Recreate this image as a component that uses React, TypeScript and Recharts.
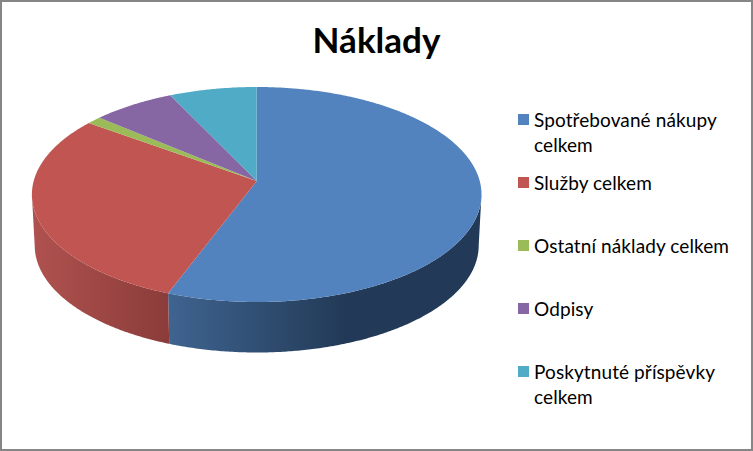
import React from "react";
import { PieChart, Pie, Legend } from "recharts";

const categories = [
  "Spotřebované nákupy celkem",
  "Služby celkem",
  "Ostatní náklady celkem",
  "Odpisy",
  "Poskytnuté příspěvky celkem",
];
const values = [55.7, 29.3, 1.2, 6.7, 7.1];
const colors = ["#5283BE", "#C15551", "#9BBB59", "#8667A3", "#4FABC6"];
const wallStops = [
  ["#3F6490", "#223A57"],
  ["#B0524F", "#8B3C3A"],
  ["#779045", "#5D7035"],
  ["#634E7E", "#4D3D62"],
  ["#3A8499", "#2D6778"],
];
const chartTitle = "Náklady";

const tableRows = categories.map((name, i) => ({
  name,
  value: values[i],
  fill: colors[i],
  index: i,
}));

const FONT = "Lato, Carlito, sans-serif";
const W = 753;
const H = 451;
// Top face ellipse, bottom rim ellipse and the perspective shift of the pie's centre
const TOP = { cx: 256.7, cy: 194.5, rx: 224.8, ry: 107.5 };
const BOTTOM = { cx: 256.7, cy: 245.5, rx: 222, ry: 107 };
const K = 0.1256;
const S = Math.sqrt(1 - K * K);

function project(deg: number) {
  const a = (deg * Math.PI) / 180;
  const x = Math.cos(a);
  const y = Math.sin(a);
  const d = 1 + K * y;
  return { u: (x * S) / d, v: (y + K) / d };
}
const onEllipse = (e: typeof TOP, p: { u: number; v: number }) => ({
  x: e.cx + e.rx * p.u,
  y: e.cy - e.ry * p.v,
});
const apex = () => ({ x: TOP.cx, y: TOP.cy - TOP.ry * K });
const fmt = (p: { x: number; y: number }) => `${p.x.toFixed(2)} ${p.y.toFixed(2)}`;

function Slice3D(props: any) {
  const { startAngle, endAngle, fill, index } = props;
  const n = Math.max(2, Math.ceil(Math.abs(endAngle - startAngle) * 2));
  const rim = Array.from({ length: n + 1 }, (_, i) =>
    project(startAngle + ((endAngle - startAngle) * i) / n)
  );
  const c = apex();
  const top = `M ${fmt(c)} L ${rim.map((p) => fmt(onEllipse(TOP, p))).join(" L ")} Z`;
  const low = rim.filter((p) => p.v <= 0);
  let wall: React.ReactNode = null;
  if (low.length > 1) {
    const upper = low.map((p) => onEllipse(TOP, p));
    const lower = low.map((p) => onEllipse(BOTTOM, p)).reverse();
    const xs = upper.map((p) => p.x);
    const minX = Math.min(...xs);
    const maxX = Math.max(...xs);
    const id = `wall-${index}`;
    const stops = wallStops[index];
    const blue = index === 0;
    wall = (
      <g>
        <defs>
          <linearGradient id={id} gradientUnits="userSpaceOnUse" x1={minX} x2={maxX} y1={0} y2={0}>
            <stop offset="0" stopColor={stops[0]} />
            <stop offset={blue ? "0.565" : "1"} stopColor={stops[1]} />
          </linearGradient>
        </defs>
        <path d={`M ${[...upper, ...lower].map(fmt).join(" L ")} Z`} fill={`url(#${id})`} />
      </g>
    );
  }
  return (
    <g>
      {wall}
      <path d={top} fill={fill} />
    </g>
  );
}

const ROW_GAP = 63;
function LegendBox(props: any) {
  const items = props.payload || [];
  return (
    <div style={{ position: "relative", width: 235, height: 320, fontFamily: FONT }}>
      {items.map((it: any, i: number) => (
        <div key={it.value} style={{ position: "absolute", left: 0, top: i * ROW_GAP, width: 235 }}>
          <span
            style={{
              position: "absolute",
              left: 0,
              top: 7,
              width: 11,
              height: 11,
              background: it.payload?.fill ?? it.color,
            }}
          />
          <div
            style={{
              position: "absolute",
              left: 16,
              top: 0,
              width: 205,
              fontSize: 19,
              letterSpacing: 0.1,
              lineHeight: "25.3px",
              color: "#000",
            }}
          >
            {it.value}
          </div>
        </div>
      ))}
    </div>
  );
}

export default function App() {
  return (
    <div
      style={{
        position: "absolute",
        left: 0,
        top: 0,
        width: W,
        height: H,
        boxSizing: "border-box",
        border: "2px solid #868686",
        background: "#fff",
      }}
    >
      <div style={{ position: "absolute", left: -2, top: -2 }}>
        <PieChart width={W} height={H} margin={{ top: 0, right: 0, bottom: 0, left: 0 }}>
          <text
            x={376.5}
            y={53}
            textAnchor="middle"
            fontFamily={FONT}
            fontWeight={700}
            fontSize={35}
            fill="#000"
          >
            {chartTitle}
          </text>
          <Pie
            data={tableRows}
            dataKey="value"
            nameKey="name"
            cx={TOP.cx}
            cy={TOP.cy}
            outerRadius={TOP.rx}
            startAngle={90}
            endAngle={-270}
            stroke="none"
            isAnimationActive={false}
            shape={Slice3D}
            rootTabIndex={-1}
          />
          <Legend
            content={LegendBox}
            itemSorter={null}
            wrapperStyle={{ position: "absolute", left: 518, top: 107, width: 235, height: 320 }}
          />
        </PieChart>
      </div>
    </div>
  );
}
